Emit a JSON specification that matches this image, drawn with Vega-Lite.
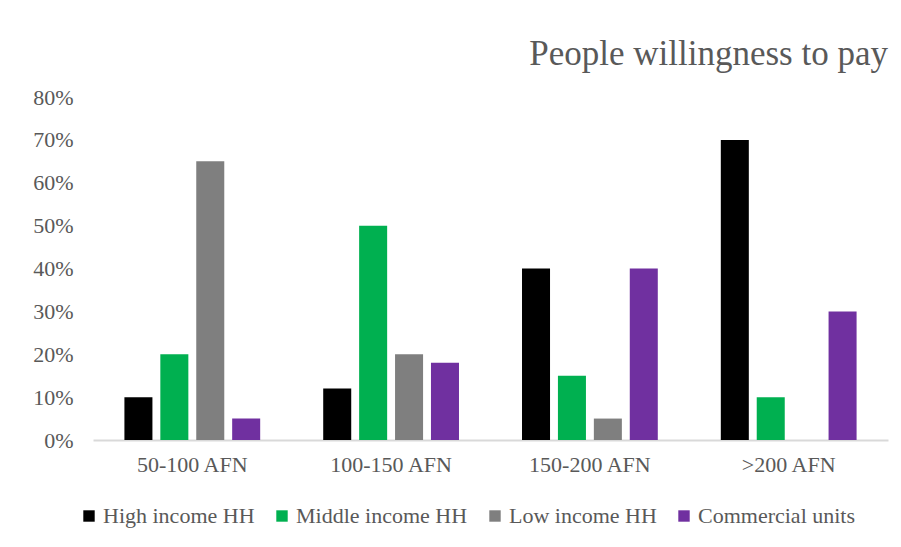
{
  "$schema": "https://vega.github.io/schema/vega-lite/v6.json",
  "autosize": "none",
  "width": 795,
  "height": 343,
  "padding": {"left": 93, "top": 97, "right": 13, "bottom": 107},
  "background": "white",
  "title": {
    "text": "People willingness to pay",
    "anchor": "end",
    "frame": "group",
    "font": "'Liberation Serif', 'Times New Roman', serif",
    "fontSize": 35,
    "fontWeight": "normal",
    "color": "#595959",
    "baseline": "alphabetic",
    "offset": -14
  },
  "config": {
    "view": {"stroke": null},
    "font": "'Liberation Serif', 'Times New Roman', serif"
  },
  "data": {
    "values": [
      {"price": "50-100 AFN", "group": "High income HH", "share": 0.10},
      {"price": "50-100 AFN", "group": "Middle income HH", "share": 0.20},
      {"price": "50-100 AFN", "group": "Low income HH", "share": 0.65},
      {"price": "50-100 AFN", "group": "Commercial units", "share": 0.05},
      {"price": "100-150 AFN", "group": "High income HH", "share": 0.12},
      {"price": "100-150 AFN", "group": "Middle income HH", "share": 0.50},
      {"price": "100-150 AFN", "group": "Low income HH", "share": 0.20},
      {"price": "100-150 AFN", "group": "Commercial units", "share": 0.18},
      {"price": "150-200 AFN", "group": "High income HH", "share": 0.40},
      {"price": "150-200 AFN", "group": "Middle income HH", "share": 0.15},
      {"price": "150-200 AFN", "group": "Low income HH", "share": 0.05},
      {"price": "150-200 AFN", "group": "Commercial units", "share": 0.40},
      {"price": ">200 AFN", "group": "High income HH", "share": 0.70},
      {"price": ">200 AFN", "group": "Middle income HH", "share": 0.10},
      {"price": ">200 AFN", "group": "Low income HH", "share": 0.0},
      {"price": ">200 AFN", "group": "Commercial units", "share": 0.30}
    ]
  },
  "mark": {"type": "bar"},
  "encoding": {
    "x": {
      "field": "price",
      "type": "nominal",
      "sort": ["50-100 AFN", "100-150 AFN", "150-200 AFN", ">200 AFN"],
      "scale": {"paddingInner": 0.317, "paddingOuter": 0.158},
      "axis": {
        "title": null,
        "labelAngle": 0,
        "labelFont": "'Liberation Serif', 'Times New Roman', serif",
        "labelFontSize": 22,
        "labelColor": "#595959",
        "labelPadding": 14,
        "ticks": false,
        "domainColor": "#d9d9d9",
        "domainWidth": 2,
        "grid": false
      }
    },
    "xOffset": {
      "field": "group",
      "type": "nominal",
      "sort": ["High income HH", "Middle income HH", "Low income HH", "Commercial units"],
      "scale": {"paddingInner": 0.22, "paddingOuter": 0}
    },
    "y": {
      "field": "share",
      "type": "quantitative",
      "scale": {"domain": [0, 0.8], "nice": false},
      "axis": {
        "title": null,
        "values": [0, 0.1, 0.2, 0.3, 0.4, 0.5, 0.6, 0.7, 0.8],
        "format": ".0%",
        "labelFont": "'Liberation Serif', 'Times New Roman', serif",
        "labelFontSize": 22,
        "labelColor": "#595959",
        "labelPadding": 20,
        "ticks": false,
        "domain": false,
        "grid": false
      }
    },
    "color": {
      "field": "group",
      "type": "nominal",
      "sort": ["High income HH", "Middle income HH", "Low income HH", "Commercial units"],
      "scale": {
        "domain": ["High income HH", "Middle income HH", "Low income HH", "Commercial units"],
        "range": ["#000000", "#00b050", "#7f7f7f", "#7030a0"]
      },
      "legend": {
        "title": null,
        "orient": "none",
        "legendX": -15,
        "legendY": 408,
        "direction": "horizontal",
        "symbolType": "square",
        "symbolSize": 130,
        "symbolStrokeWidth": 0,
        "labelFont": "'Liberation Serif', 'Times New Roman', serif",
        "labelFontSize": 22,
        "labelColor": "#595959",
        "labelOffset": 3,
        "labelLimit": 400,
        "columnPadding": 16
      }
    }
  }
}
